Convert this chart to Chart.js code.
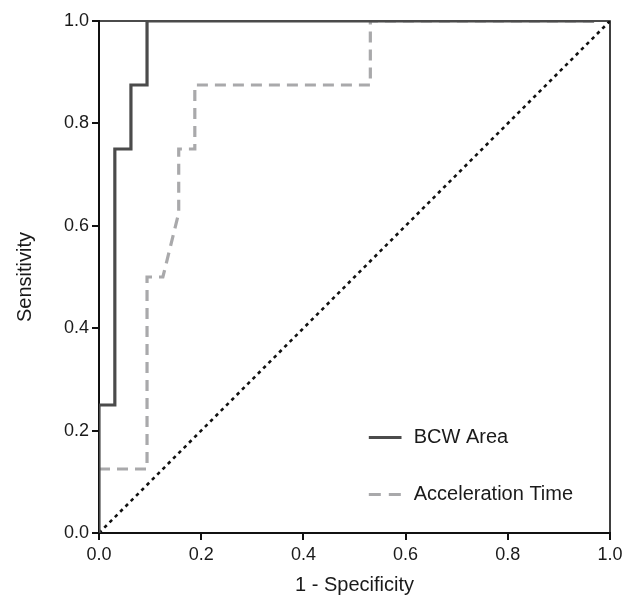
<!DOCTYPE html>
<html>
<head>
<meta charset="utf-8">
<script src="https://cdn.jsdelivr.net/npm/chart.js@4.4.1/dist/chart.umd.min.js"></script>
<style>
  html, body { margin: 0; padding: 0; background: #ffffff; }
  #wrap { width: 635px; height: 595px; }
</style>
</head>
<body>
<div id="wrap"><canvas id="c" width="635" height="595"></canvas></div>
<script>
// ROC data
const seriesNames = ['BCW Area', 'Acceleration Time'];
const bcwX = [0, 0, 0.031, 0.031, 0.0625, 0.0625, 0.094, 0.094, 0.969];
const bcwY = [0, 0.25, 0.25, 0.75, 0.75, 0.875, 0.875, 1.0, 1.0];
const accX = [0, 0.094, 0.094, 0.125, 0.156, 0.156, 0.1875, 0.1875, 0.531, 0.531, 0.969];
const accY = [0.125, 0.125, 0.5, 0.5, 0.625, 0.75, 0.75, 0.875, 0.875, 1.0, 1.0];
const refX = [0, 1];
const refY = [0, 1];
const tickValues = [0, 0.2, 0.4, 0.6, 0.8, 1.0];
const xTitle = '1 - Specificity';
const yTitle = 'Sensitivity';

const pts = (xs, ys) => xs.map((x, i) => ({ x: x, y: ys[i] }));
const FONT = "'Liberation Sans', Arial, Helvetica, sans-serif";

const frameAndLegend = {
  id: 'frameAndLegend',
  beforeDatasetsDraw(chart) {
    const { ctx, chartArea: a } = chart;
    ctx.save();
    ctx.strokeStyle = '#111111';
    ctx.lineWidth = 1.6;
    ctx.beginPath();
    ctx.moveTo(a.left, a.top);
    ctx.lineTo(a.right, a.top);
    ctx.lineTo(a.right, a.bottom);
    ctx.stroke();
    ctx.restore();
  },
  afterDraw(chart) {
    const { ctx } = chart;
    const xs = chart.scales.x, ys = chart.scales.y;
    const items = [
      { ds: chart.data.datasets[0], yv: 0.188 },
      { ds: chart.data.datasets[1], yv: 0.076 }
    ];
    ctx.save();
    items.forEach(it => {
      const y = Math.round(ys.getPixelForValue(it.yv)) + 0.5;
      const x0 = xs.getPixelForValue(0.528);
      const x1 = xs.getPixelForValue(0.592);
      ctx.strokeStyle = it.ds.borderColor;
      ctx.lineWidth = 3;
      ctx.setLineDash(it.ds.borderDash ? [12, 8] : []);
      ctx.beginPath();
      ctx.moveTo(x0, y);
      ctx.lineTo(x1, y);
      ctx.stroke();
      ctx.setLineDash([]);
      ctx.fillStyle = '#1a1a1a';
      ctx.font = '20px ' + FONT;
      ctx.textBaseline = 'middle';
      ctx.textAlign = 'left';
      ctx.fillText(it.ds.label, xs.getPixelForValue(0.616), y);
    });
    ctx.restore();
  }
};

new Chart(document.getElementById('c'), {
  type: 'scatter',
  data: {
    datasets: [
      {
        label: seriesNames[0],
        data: pts(bcwX, bcwY),
        showLine: true,
        borderColor: '#4b4b4b',
        borderWidth: 3.2,
        pointRadius: 0,
        fill: false,
        tension: 0,
        order: 1
      },
      {
        label: seriesNames[1],
        data: pts(accX, accY),
        showLine: true,
        borderColor: '#a9a9ab',
        borderWidth: 3.2,
        borderDash: [11, 7],
        pointRadius: 0,
        fill: false,
        tension: 0,
        order: 2
      },
      {
        label: 'ref',
        data: pts(refX, refY),
        showLine: true,
        borderColor: '#111111',
        borderWidth: 2.6,
        borderDash: [3.5, 4],
        pointRadius: 0,
        fill: false,
        order: 3
      }
    ]
  },
  options: {
    responsive: false,
    animation: false,
    devicePixelRatio: 1,
    layout: { padding: { left: 0, right: 25, top: 21, bottom: 0 } },
    plugins: {
      legend: { display: false },
      tooltip: { enabled: false }
    },
    scales: {
      x: {
        type: 'linear',
        min: 0, max: 1,
        afterBuildTicks(scale) { scale.ticks = tickValues.map(v => ({ value: v })); },
        afterFit(scale) { scale.height = 62; },
        ticks: {
          color: '#1a1a1a',
          font: { family: FONT, size: 18 },
          padding: 4,
          maxRotation: 0,
          callback: v => Number(v).toFixed(1)
        },
        grid: { drawOnChartArea: false, drawTicks: true, tickLength: 7, color: '#111111', lineWidth: 2 },
        border: { display: true, color: '#111111', width: 2 },
        title: { display: true, text: xTitle, color: '#1a1a1a', font: { family: FONT, size: 20, lineHeight: 1.0 }, padding: { top: 0, bottom: 0 } }
      },
      y: {
        type: 'linear',
        min: 0, max: 1,
        afterBuildTicks(scale) { scale.ticks = tickValues.map(v => ({ value: v })); },
        afterFit(scale) { scale.width = 99; },
        ticks: {
          color: '#1a1a1a',
          font: { family: FONT, size: 18 },
          padding: 3,
          callback: v => Number(v).toFixed(1)
        },
        grid: { drawOnChartArea: false, drawTicks: true, tickLength: 7, color: '#111111', lineWidth: 2 },
        border: { display: true, color: '#111111', width: 2 },
        title: { display: true, text: yTitle, color: '#1a1a1a', font: { family: FONT, size: 20, lineHeight: 1.0 }, padding: { top: 15, bottom: 0 } }
      }
    }
  },
  plugins: [frameAndLegend]
});
</script>
</body>
</html>
